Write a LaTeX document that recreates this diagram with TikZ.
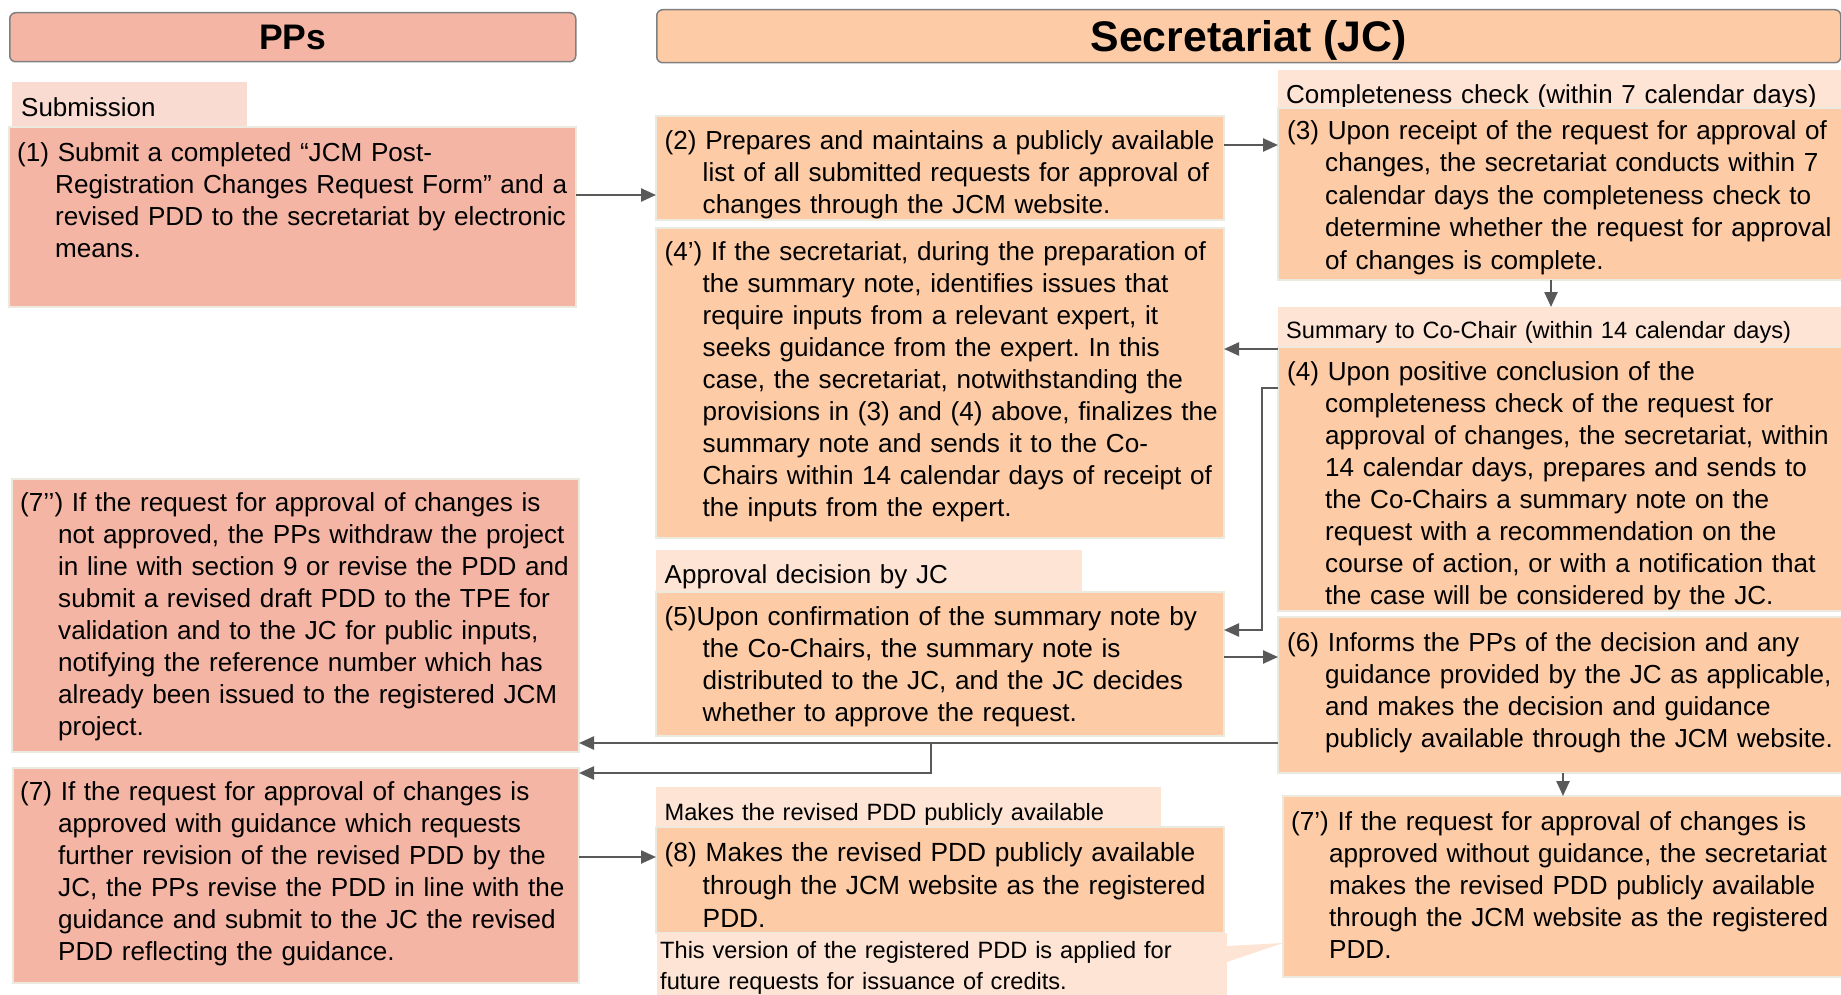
\documentclass[tikz,border=0pt]{standalone}
\usepackage{fontspec}
\setmainfont{Liberation Sans}
\usetikzlibrary{arrows.meta,calc}
\frenchspacing
\definecolor{ppfill}{HTML}{F4B5A4}
\definecolor{scfill}{HTML}{FDCBA5}
\definecolor{pplab}{HTML}{FADBD2}
\definecolor{sclab}{HTML}{FDE4D4}
\definecolor{boxedge}{HTML}{ECE9DF}
\definecolor{hdredge}{HTML}{7F7F7F}
\definecolor{arrowc}{HTML}{595959}
\newcommand{\bodyfont}{\fontsize{26.1}{32}\selectfont}
\newcommand{\labfont}{\fontsize{26}{32}\selectfont}
\newcommand{\smlfont}{\fontsize{23.6}{31}\selectfont}
\newcommand{\hind}{\hspace*{38pt}}
\begin{document}
\begin{tikzpicture}[x=1pt,y=-1pt,
  box/.style={anchor=north west, inner sep=0pt, outer sep=0pt, draw=boxedge, line width=1.2pt},
  pbox/.style={box, fill=ppfill},
  sbox/.style={box, fill=scfill},
  plabel/.style={box, fill=pplab},
  slabel/.style={box, fill=sclab, draw=none},
  hdr/.style={anchor=north west, inner sep=0pt, draw=hdredge, line width=1.5pt, rounded corners=6pt},
  txt/.style={anchor=base west, inner sep=0pt, align=left, text width=640pt, font=\bodyfont},
  arr/.style={draw=arrowc, line width=2.4pt, -{Triangle[length=15pt,width=13pt]}}
]
\useasboundingbox (0,0) rectangle (1841,995);

% headers
\node[hdr, fill=ppfill, minimum width=566, minimum height=49] (hpp) at (9,12) {};
\node[anchor=base, inner sep=0pt, font=\bfseries\fontsize{35.5}{40}\selectfont] (tpp) at ($(hpp.north)+(0,38)$) {PPs};
\node[hdr, fill=scfill, minimum width=1184, minimum height=53] (hsec) at (656,9) {};
\node[anchor=base, inner sep=0pt, font=\bfseries\fontsize{42.8}{48}\selectfont] (tsec) at ($(hsec.north)+(0,42.5)$) {Secretariat (JC)};

% PPs column
\node[plabel, draw=none, minimum width=235, minimum height=45] (lsub) at (12,82) {};
\node[txt, font=\labfont] (tsub) at ($(lsub.north west)+(9,35)$) {Submission};
\node[pbox, minimum width=567, minimum height=180] (b1) at (9,127) {};
\node[txt] (t1) at ($(b1.north west)+(8,35)$) {(1) Submit a completed “JCM Post-\\
\hind Registration Changes Request Form” and a\\
\hind revised PDD to the secretariat by electronic\\
\hind means.};

\node[pbox, minimum width=567, minimum height=273] (b7pp) at (12,479) {};
\node[txt] (t7pp) at ($(b7pp.north west)+(8,32.7)$) {(7’’) If the request for approval of changes is\\
\hind not approved, the PPs withdraw the project\\
\hind in line with section 9 or revise the PDD and\\
\hind submit a revised draft PDD to the TPE for\\
\hind validation and to the JC for public inputs,\\
\hind notifying the reference number which has\\
\hind already been issued to the registered JCM\\
\hind project.};

\node[pbox, minimum width=566, minimum height=215] (b7) at (13,768) {};
\node[txt] (t7) at ($(b7.north west)+(7,32)$) {(7) If the request for approval of changes is\\
\hind approved with guidance which requests\\
\hind further revision of the revised PDD by the\\
\hind JC, the PPs revise the PDD in line with the\\
\hind guidance and submit to the JC the revised\\
\hind PDD reflecting the guidance.};

% middle column
\node[sbox, minimum width=568, minimum height=104] (b2) at (656,116) {};
\node[txt] (t2) at ($(b2.north west)+(8.5,33.5)$) {(2) Prepares and maintains a publicly available\\
\hind list of all submitted requests for approval of\\
\hind changes through the JCM website.};

\node[sbox, minimum width=568, minimum height=310] (b4p) at (656,228) {};
\node[txt] (t4p) at ($(b4p.north west)+(8.5,32)$) {(4’) If the secretariat, during the preparation of\\
\hind the summary note, identifies issues that\\
\hind require inputs from a relevant expert, it\\
\hind seeks guidance from the expert. In this\\
\hind case, the secretariat, notwithstanding the\\
\hind provisions in (3) and (4) above, finalizes the\\
\hind summary note and sends it to the Co-\\
\hind Chairs within 14 calendar days of receipt of\\
\hind the inputs from the expert.};

\node[slabel, minimum width=426, minimum height=42] (l5) at (656,550) {};
\node[txt, font=\labfont] (tl5) at ($(l5.north west)+(8.5,33)$) {Approval decision by JC};
\node[sbox, minimum width=568, minimum height=144] (b5) at (656,592) {};
\node[txt] (t5) at ($(b5.north west)+(8.5,33)$) {(5)Upon confirmation of the summary note by\\
\hind the Co-Chairs, the summary note is\\
\hind distributed to the JC, and the JC decides\\
\hind whether to approve the request.};

\node[slabel, minimum width=505, minimum height=40] (l8) at (656,787) {};
\node[txt, font=\smlfont] (tl8) at ($(l8.north west)+(8.5,33)$) {Makes the revised PDD publicly available};
\node[sbox, minimum width=568, minimum height=106] (b8) at (656,827) {};
\node[txt, font=\fontsize{26.3}{33}\selectfont] (t8) at ($(b8.north west)+(8.5,34)$) {(8) Makes the revised PDD publicly available\\
\hind through the JCM website as the registered\\
\hind PDD.};

\node[slabel, minimum width=570, minimum height=64] (note) at (657,933) {};
\fill[sclab] (note.east |- 0,946) -- (1283,943) -- (note.east |- 0,962) -- cycle;
\node[txt, font=\smlfont] (tnote) at ($(note.north west)+(3,25.5)$) {This version of the registered PDD is applied for\\
future requests for issuance of credits.};

% right column
\node[slabel, minimum width=568, minimum height=38] (l3) at (1278,70) {};
\node[txt, font=\labfont] (tl3) at ($(l3.north west)+(8,33.5)$) {Completeness check (within 7 calendar days)};
\node[sbox, minimum width=568, minimum height=172] (b3) at (1278,108) {};
\node[txt, font=\fontsize{26.1}{32.5}\selectfont] (t3) at ($(b3.north west)+(9,31.5)$) {(3) Upon receipt of the request for approval of\\
\hind changes, the secretariat conducts within 7\\
\hind calendar days the completeness check to\\
\hind determine whether the request for approval\\
\hind of changes is complete.};

\node[slabel, minimum width=568, minimum height=40] (l4) at (1278,307) {};
\node[txt, font=\smlfont] (tl4) at ($(l4.north west)+(8,31.5)$) {Summary to Co-Chair (within 14 calendar days)};
\node[sbox, minimum width=568, minimum height=264] (b4) at (1278,347) {};
\node[txt] (t4) at ($(b4.north west)+(9,33.5)$) {(4) Upon positive conclusion of the\\
\hind completeness check of the request for\\
\hind approval of changes, the secretariat, within\\
\hind 14 calendar days, prepares and sends to\\
\hind the Co-Chairs a summary note on the\\
\hind request with a recommendation on the\\
\hind course of action, or with a notification that\\
\hind the case will be considered by the JC.};

\node[sbox, minimum width=568, minimum height=156] (b6) at (1278,617) {};
\node[txt] (t6) at ($(b6.north west)+(9,34)$) {(6) Informs the PPs of the decision and any\\
\hind guidance provided by the JC as applicable,\\
\hind and makes the decision and guidance\\
\hind publicly available through the JCM website.};

\node[sbox, minimum width=563, minimum height=181] (b7p) at (1283,796) {};
\node[txt, font=\fontsize{26.1}{32}\selectfont] (t7p) at ($(b7p.north west)+(8,34.5)$) {(7’) If the request for approval of changes is\\
\hind approved without guidance, the secretariat\\
\hind makes the revised PDD publicly available\\
\hind through the JCM website as the registered\\
\hind PDD.};

% connectors
\draw[arr] (b1.east |- 0,195) -- (b2.west |- 0,195);
\draw[arr] (b2.east |- 0,145) -- (b3.west |- 0,145);
\draw[arr] (b3.south -| 1551,0) -- (l4.north -| 1551,0);
\draw[arr] (l4.west |- 0,349) -- (b4p.east |- 0,349);
\draw[arr] (b4.west |- 0,388) -- (1262,388) |- (b5.east |- 0,630);
\draw[arr] (b5.east |- 0,657) -- (b6.west |- 0,657);
\draw[arr] (b6.west |- 0,743) -- (b7pp.east |- 0,743);
\coordinate (split) at (931,743);
\draw[arr] (split) |- (b7.east |- 0,773);
\draw[arr] (b6.south -| 1563,0) -- (b7p.north -| 1563,0);
\draw[arr] (b7.east |- 0,857) -- (b8.west |- 0,857);
\end{tikzpicture}
\end{document}
